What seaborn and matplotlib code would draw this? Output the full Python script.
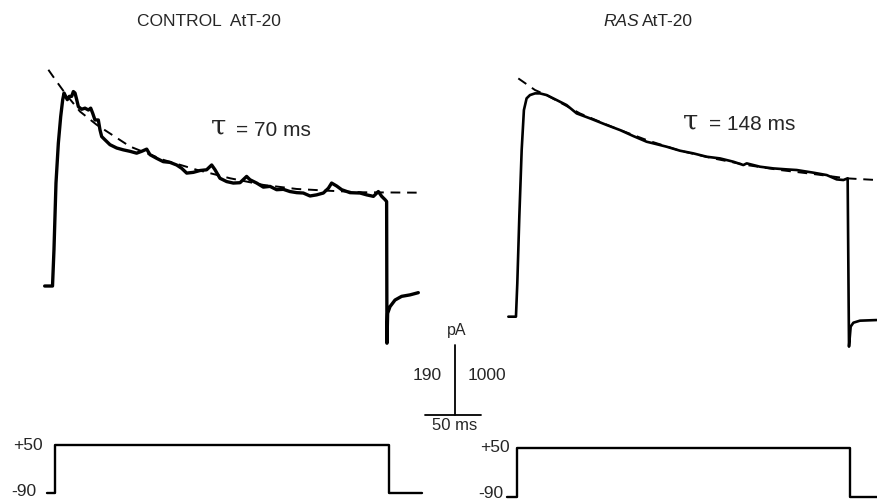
import numpy as np
import matplotlib
matplotlib.use("Agg")
import matplotlib.pyplot as plt
import seaborn as sns

# -----------------------------
# Data
# time in ms from pulse onset, current in pA, voltage in mV
# -----------------------------
ctrl_t = [-7, 0, 1.3, 3.1, 5.2, 7.3, 9.1, 10.3, 11.1, 13.2,
          15.0, 17.1, 18.6, 20.1, 21.6, 23.1, 26.0, 29.0, 32.0, 34.1,
          35.9, 37.9, 40.9, 42.4, 43.9, 46.9, 51.3, 57.3, 63.2, 69.2,
          75.1, 79.6, 84.1, 87.0, 93.0, 98.9, 104.9, 110.8, 115.3, 119.8,
          125.7, 131.7, 137.6, 142.1, 145.1, 149.5, 155.5, 161.4, 167.4, 173.3,
          176.3, 182.3, 188.2, 194.2, 200.1, 206.1, 212.0, 218.0, 223.9, 229.9,
          235.8, 241.8, 246.3, 249.2, 253.7, 258.2, 265.6, 274.6, 280.5, 286.5,
          290.9, 293.9, 296.9, 298.3, 298.6, 299.2, 301.3, 305.8, 311.7, 319.2,
          326.6]
ctrl_pA = [0, 0, 98, 279, 387, 459, 505, 523, 518, 505,
           514, 514, 527, 523, 505, 486, 479, 482, 477, 482,
           468, 450, 450, 423, 405, 396, 383, 374, 369, 365,
           360, 365, 371, 356, 346, 337, 335, 328, 319, 306,
           308, 313, 315, 328, 315, 292, 283, 279, 280, 297,
           288, 279, 268, 270, 261, 262, 256, 253, 252, 244,
           247, 252, 265, 279, 271, 261, 253, 252, 247, 243,
           256, 243, 234, 229, -155, -74, -56, -38, -28, -24,
           -18]
ctrl_fit_t = [-3.7, 3.7, 11.1, 24.5, 39.4, 69.2, 98.9, 128.7, 158.5, 188.2,
              218.0, 247.7, 277.5, 325.1]
ctrl_fit_pA = [586, 554, 523, 473, 437, 378, 342, 315, 292, 274,
               263, 258, 254, 253]

ras_t = [-6.8, 0, 1.2, 3.0, 5.1, 7.1, 9.5, 12.5, 17.0, 21.4,
         27.4, 36.3, 45.2, 54.2, 66.1, 81.0, 92.9, 104.8, 116.7, 122.6,
         134.5, 146.4, 158.3, 170.2, 182.1, 194.0, 203.0, 206.0, 217.9, 229.8,
         241.7, 250.6, 265.5, 277.4, 286.3, 292.3, 296.1, 297.3, 298.8, 301.2,
         307.1, 322.0]
ras_pA = [0, 0, 477, 1429, 2381, 2953, 3120, 3167, 3191, 3191,
          3167, 3096, 3024, 2905, 2834, 2739, 2667, 2581, 2500, 2477,
          2429, 2372, 2334, 2286, 2262, 2215, 2167, 2191, 2143, 2119,
          2105, 2096, 2058, 2024, 1962, 1953, 1977, -428, -142, -86,
          -57, -48]
ras_fit_t = [2.1, 17.0, 27.4, 57.1, 86.9, 116.7, 146.4, 176.2, 206.0, 235.7,
             265.5, 295.2, 322.0]
ras_fit_pA = [3405, 3239, 3167, 2905, 2705, 2524, 2372, 2262, 2167, 2096,
              2039, 1977, 1953]

ctrl_v_t = [-5, 2, 2, 300, 300, 330]
ras_v_t = [-8, 1, 1, 298, 298, 322]
step_mV = [-90, -90, 50, 50, -90, -90]

scale_ms = 50
scale_pA_ctrl = 190
scale_pA_ras = 1000

# -----------------------------
# Figure
# -----------------------------
sns.set_theme(style="white")
plt.rcParams["font.family"] = ["Liberation Sans", "DejaVu Sans"]

fig = plt.figure(figsize=(8.77, 5.0), dpi=100)
W, H = 877.0, 500.0


def box(x0, y0, x1, y1):
    return [x0 / W, 1 - y1 / H, (x1 - x0) / W, (y1 - y0) / H]


ax_c = fig.add_axes(box(30, 40, 490, 430))
ax_r = fig.add_axes(box(480, 40, 877, 360))
ax_cv = fig.add_axes(box(30, 420, 490, 500))
ax_rv = fig.add_axes(box(480, 420, 877, 500))
for a in (ax_c, ax_r, ax_cv, ax_rv):
    a.set_facecolor("none")

# current traces
sns.lineplot(x=ctrl_fit_t, y=ctrl_fit_pA, ax=ax_c, color="black", lw=1.4,
             sort=False, estimator=None, linestyle=(0, (5, 3.5)))
sns.lineplot(x=ctrl_t, y=ctrl_pA, ax=ax_c, color="black", lw=2.4,
             sort=False, estimator=None)
sns.lineplot(x=ras_fit_t, y=ras_fit_pA, ax=ax_r, color="black", lw=1.4,
             sort=False, estimator=None, linestyle=(0, (5, 3.5)))
sns.lineplot(x=ras_t, y=ras_pA, ax=ax_r, color="black", lw=1.9,
             sort=False, estimator=None)

# voltage protocol
sns.lineplot(x=ctrl_v_t, y=step_mV, ax=ax_cv, color="black", lw=1.7,
             sort=False, estimator=None)
sns.lineplot(x=ras_v_t, y=step_mV, ax=ax_rv, color="black", lw=1.7,
             sort=False, estimator=None)

ax_c.set_xlim(-20.1, 390.6)
ax_c.set_ylim(-390.2, 666.7)
ax_r.set_xlim(-32.1, 322.3)
ax_r.set_ylim(-619, 3954)
ax_cv.set_xlim(-20.1, 390.6)
ax_cv.set_ylim(-111.4, 123.4)
ax_rv.set_xlim(-32.1, 322.3)
ax_rv.set_ylim(-99.4, 129.1)

# scale bar (in control-trace units)
sb_t, sb_i = 332.6, -349.6
ax_c.plot([sb_t, sb_t + scale_ms], [sb_i, sb_i], color="black", lw=1.3)
ax_c.plot([sb_t + 27, sb_t + 27], [sb_i, sb_i + scale_pA_ctrl],
          color="black", lw=1.3)

for a in (ax_c, ax_r, ax_cv, ax_rv):
    a.axis("off")

# -----------------------------
# Text
# -----------------------------
def ft(x, y, s, **kw):
    fig.text(x / W, 1 - y / H, s, **kw)


ft(137, 21, "CONTROL  AtT-20", fontsize=12.5, ha="left", va="center")
ft(603, 21, "RAS", fontsize=12.5, ha="left", va="center", style="italic")
ft(642, 21, "AtT-20", fontsize=12.5, ha="left", va="center")

ft(211, 127, "\u03c4", fontsize=20, ha="left", va="center",
   family=["DejaVu Serif"])
ft(236, 130, "= 70 ms", fontsize=15, ha="left", va="center")
ft(683, 122, "\u03c4", fontsize=20, ha="left", va="center",
   family=["DejaVu Serif"])
ft(709, 125, "= 148 ms", fontsize=15, ha="left", va="center")

ft(457, 331, "pA", fontsize=11.5, ha="center", va="center")
ft(442, 375, str(scale_pA_ctrl), fontsize=12.5, ha="right", va="center")
ft(468, 375, str(scale_pA_ras), fontsize=12.5, ha="left", va="center")
ft(455, 426, f"{scale_ms} ms", fontsize=12, ha="center", va="center")

ft(43, 445, "+50", fontsize=12.5, ha="right", va="center")
ft(36, 491, "-90", fontsize=12.5, ha="right", va="center")
ft(510, 447, "+50", fontsize=12.5, ha="right", va="center")
ft(503, 493, "-90", fontsize=12.5, ha="right", va="center")

fig.savefig("out.png", dpi=100)
plt.close(fig)
